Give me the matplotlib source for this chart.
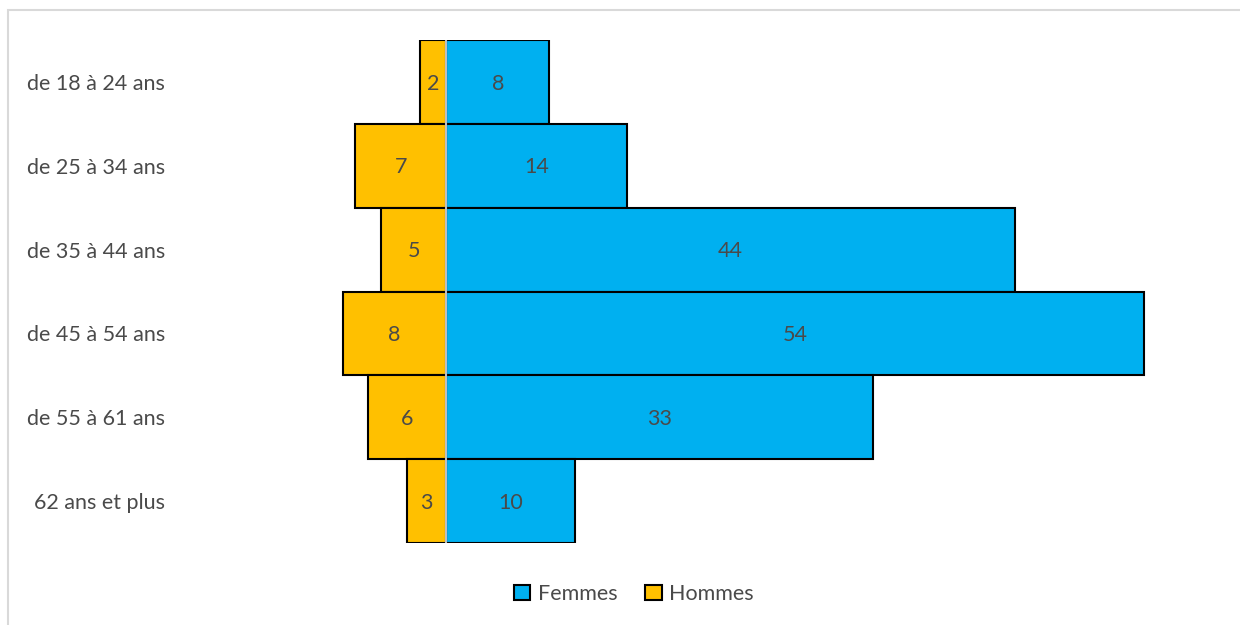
import matplotlib
matplotlib.use("Agg")
import matplotlib.pyplot as plt
from matplotlib.patches import Rectangle, Patch

categories = ["de 18 à 24 ans", "de 25 à 34 ans", "de 35 à 44 ans",
              "de 45 à 54 ans", "de 55 à 61 ans", "62 ans et plus"]
femmes = [8, 14, 44, 54, 33, 10]
hommes = [2, 7, 5, 8, 6, 3]

BLUE = "#00B0F0"
YELLOW = "#FFC000"
TXT = "#4a4a4a"
FS = 15.5
plt.rcParams['font.family'] = ['Lato', 'DejaVu Sans']

W, H = 1240, 625
fig = plt.figure(figsize=(W / 100, H / 100), dpi=100)

# frame border
fig.patches.append(Rectangle((8 / W, -0.1), 1.2, (H - 10) / H + 0.1, transform=fig.transFigure,
                             fill=False, edgecolor="#D9D9D9", linewidth=1.5))

scale = 12.93
x0 = 446
xmin, xmax = -20, 60
left = (x0 + xmin * scale) / W
right = (x0 + xmax * scale) / W
top, bottom = 40, 543
ax = fig.add_axes([left, (H - bottom) / H, right - left, (bottom - top) / H])

y = list(range(len(categories)))
ax.barh(y, femmes, height=1.0, color=BLUE, edgecolor="black", linewidth=1.5, zorder=2)
ax.barh(y, [-h for h in hommes], height=1.0, color=YELLOW, edgecolor="black", linewidth=1.5, zorder=2)
ax.axvline(0, color="#BFBFBF", linewidth=1.5, zorder=3)

for i, (f, h) in enumerate(zip(femmes, hommes)):
    ax.text(f / 2, i + 0.02, str(f), ha="center", va="center", fontsize=FS, color=TXT, zorder=4)
    ax.text(-h / 2, i + 0.02, str(h), ha="center", va="center", fontsize=FS, color=TXT, zorder=4)

ax.set_xlim(xmin, xmax)
ax.set_ylim(len(categories) - 0.5, -0.5)
ax.set_yticks(y)
ax.set_yticklabels(categories, fontsize=FS, color=TXT)
ax.tick_params(axis="y", length=0, pad=16)
ax.set_xticks([])
for s in ax.spines.values():
    s.set_visible(False)

handles = [Patch(facecolor=BLUE, edgecolor="black", linewidth=1.5, label="Femmes"),
           Patch(facecolor=YELLOW, edgecolor="black", linewidth=1.5, label="Hommes")]
leg = fig.legend(handles=handles, loc="center", bbox_to_anchor=(634 / W, 1 - 594 / H), ncol=2,
                 frameon=False, fontsize=FS, handlelength=0.75, handleheight=0.75,
                 handletextpad=0.35, columnspacing=1.3)
for t in leg.get_texts():
    t.set_color(TXT)

fig.savefig("out.png", dpi=100, facecolor="white")
